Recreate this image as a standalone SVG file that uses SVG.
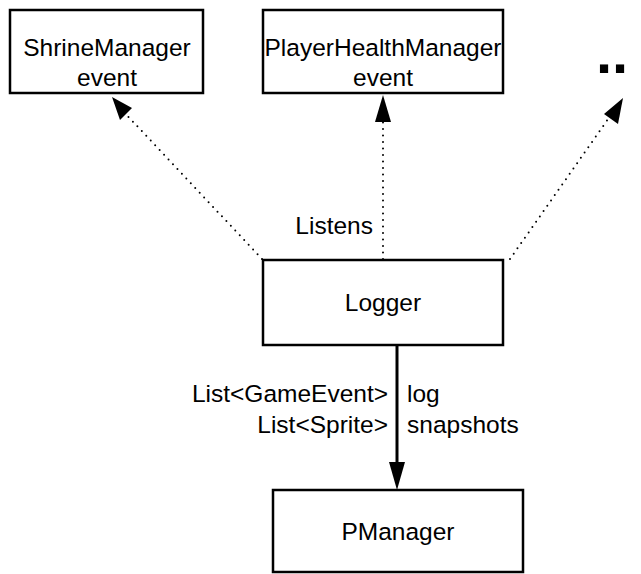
<svg xmlns="http://www.w3.org/2000/svg" width="641" height="574" viewBox="0 0 641 574">
<style>
.box{fill:#fff;stroke:#000;stroke-width:2.5}
text{font-family:"Liberation Sans",Arial,sans-serif;font-size:24.5px;fill:#000}
.c{text-anchor:middle}
.r{text-anchor:end}
.dot{fill:none;stroke:#000;stroke-width:2;stroke-dasharray:0 6.5;stroke-linecap:round}
.solid{fill:none;stroke:#000;stroke-width:3}
</style>
<g id="connectors">
<path class="dot" d="M262,259 L122,110"/>
<path d="M112,97 L132,108 L120,120 z" fill="#000"/>
<path class="dot" d="M383,259 L383,120"/>
<path d="M383,95 L391,122 L375,122 z" fill="#000"/>
<path class="dot" d="M510,259 L613,112"/>
<path d="M623,98 L618,124 L604,114 z" fill="#000"/>
<line class="solid" x1="397" y1="345" x2="397" y2="465"/>
<path d="M397,490 L389,462 L405,462 z" fill="#000"/>
<text class="r" x="373" y="234">Listens</text>
<text class="r" x="388" y="402">List&lt;GameEvent&gt;</text>
<text class="r" x="388" y="433">List&lt;Sprite&gt;</text>
<text x="407" y="402">log</text>
<text x="407" y="433">snapshots</text>
</g>
<g id="shrine"><rect class="box" x="10" y="10" width="193" height="83"/><text class="c" x="107" y="56">ShrineManager</text><text class="c" x="107" y="86">event</text></g>
<g id="player"><rect class="box" x="263" y="10" width="240" height="83"/><text class="c" x="383" y="56">PlayerHealthManager</text><text class="c" x="383" y="86">event</text></g>
<g id="more"><text x="596" y="73" style="font-size:58px;font-weight:bold">..</text></g>
<g id="logger"><rect class="box" x="263" y="260" width="240" height="85"/><text class="c" x="383" y="311">Logger</text></g>
<g id="pmanager"><rect class="box" x="273" y="490" width="250" height="82"/><text class="c" x="398" y="540">PManager</text></g>
</svg>
